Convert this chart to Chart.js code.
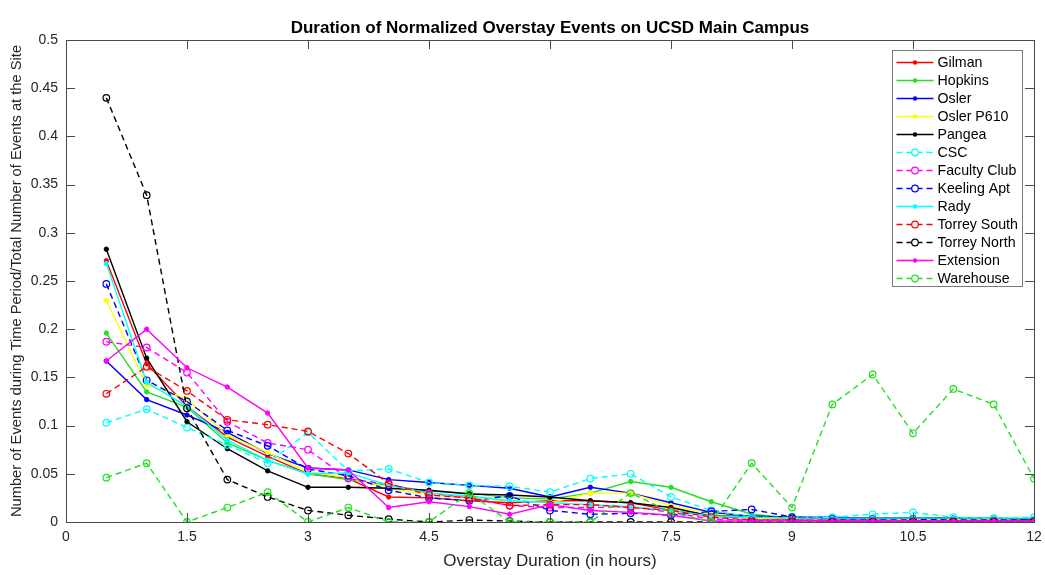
<!DOCTYPE html>
<html>
<head>
<meta charset="utf-8">
<script src="https://cdn.jsdelivr.net/npm/chart.js@4.4.1/dist/chart.umd.min.js"></script>
<style>
  html, body { margin: 0; padding: 0; background: #ffffff; }
  #wrap { width: 1045px; height: 575px; }
</style>
</head>
<body>
<div id="wrap"><canvas id="c" width="1045" height="575"></canvas></div>
<script>
// Overstay duration bins (hours)
const durations = [0.5, 1, 1.5, 2, 2.5, 3, 3.5, 4, 4.5, 5, 5.5, 6, 6.5, 7, 7.5, 8, 8.5, 9, 9.5, 10, 10.5, 11, 11.5, 12];

// Normalized share of overstay events per site
const gilman      = [0.271, 0.164, 0.120, 0.088, 0.068, 0.050, 0.045, 0.026, 0.025, 0.022, 0.020, 0.022, 0.022, 0.020, 0.012, 0.006, 0.004, 0.003, 0.002, 0.002, 0.002, 0.002, 0.002, 0.002];
const hopkins     = [0.196, 0.135, 0.119, 0.082, 0.064, 0.050, 0.044, 0.038, 0.032, 0.030, 0.025, 0.024, 0.030, 0.042, 0.036, 0.021, 0.008, 0.004, 0.003, 0.003, 0.002, 0.002, 0.002, 0.002];
const osler       = [0.167, 0.127, 0.111, 0.093, 0.071, 0.056, 0.054, 0.044, 0.041, 0.038, 0.035, 0.026, 0.036, 0.030, 0.020, 0.010, 0.006, 0.005, 0.005, 0.004, 0.004, 0.004, 0.003, 0.003];
const oslerP610   = [0.230, 0.142, 0.128, 0.090, 0.072, 0.052, 0.046, 0.035, 0.028, 0.025, 0.022, 0.020, 0.030, 0.030, 0.017, 0.008, 0.004, 0.003, 0.003, 0.002, 0.002, 0.002, 0.002, 0.002];
const pangea      = [0.283, 0.170, 0.104, 0.076, 0.053, 0.036, 0.036, 0.035, 0.033, 0.029, 0.028, 0.026, 0.022, 0.020, 0.015, 0.006, 0.006, 0.005, 0.004, 0.004, 0.004, 0.004, 0.004, 0.003];
const csc         = [0.103, 0.117, 0.098, 0.080, 0.061, 0.093, 0.053, 0.055, 0.041, 0.038, 0.037, 0.031, 0.045, 0.050, 0.026, 0.012, 0.005, 0.005, 0.005, 0.008, 0.010, 0.005, 0.004, 0.005];
const facultyClub = [0.187, 0.181, 0.155, 0.104, 0.082, 0.075, 0.045, 0.039, 0.030, 0.025, 0.017, 0.015, 0.015, 0.016, 0.010, 0.003, 0.002, 0.002, 0.002, 0.002, 0.001, 0.001, 0.001, 0.001];
const keelingApt  = [0.247, 0.147, 0.125, 0.095, 0.079, 0.055, 0.048, 0.033, 0.025, 0.022, 0.027, 0.012, 0.008, 0.009, 0.007, 0.011, 0.013, 0.005, 0.003, 0.003, 0.003, 0.002, 0.002, 0.002];
const rady        = [0.268, 0.145, 0.120, 0.085, 0.064, 0.050, 0.051, 0.038, 0.030, 0.027, 0.022, 0.020, 0.018, 0.016, 0.012, 0.006, 0.005, 0.004, 0.004, 0.004, 0.004, 0.004, 0.004, 0.004];
const torreySouth = [0.133, 0.161, 0.136, 0.106, 0.101, 0.094, 0.071, 0.040, 0.028, 0.025, 0.017, 0.018, 0.018, 0.015, 0.012, 0.005, 0.002, 0.002, 0.001, 0.001, 0.001, 0.001, 0.001, 0.001];
const torreyNorth = [0.440, 0.339, 0.118, 0.044, 0.026, 0.012, 0.007, 0.003, 0.000, 0.002, 0.001, 0.000, 0.000, 0.000, 0.000, 0.000, 0.000, 0.000, 0.000, 0.000, 0.000, 0.000, 0.000, 0.000];
const extension   = [0.167, 0.200, 0.160, 0.140, 0.113, 0.056, 0.054, 0.015, 0.021, 0.016, 0.008, 0.018, 0.012, 0.010, 0.007, 0.001, 0.001, 0.001, 0.001, 0.001, 0.001, 0.001, 0.001, 0.001];
const warehouse   = [0.046, 0.061, 0.000, 0.015, 0.031, 0.000, 0.015, 0.000, 0.000, 0.030, 0.000, 0.000, 0.000, 0.030, 0.010, 0.000, 0.061, 0.015, 0.122, 0.153, 0.092, 0.138, 0.122, 0.045];

// Axis tick values
const xTicks = [0, 1.5, 3, 4.5, 6, 7.5, 9, 10.5, 12];
const yTicks = [0, 0.05, 0.1, 0.15, 0.2, 0.25, 0.3, 0.35, 0.4, 0.45, 0.5];

const TITLE = 'Duration of Normalized Overstay Events on UCSD Main Campus';
const FONT = "'Liberation Sans', Arial, Helvetica, sans-serif";
const TEXT = '#262626';
const AXIS = '#4a4a4a';

// name, values, colour, dashed (open circle markers) or solid (dot markers)
const series = [
  ['Gilman',       gilman,      '#ff0000', false],
  ['Hopkins',      hopkins,     '#22e022', false],
  ['Osler',        osler,       '#0000ff', false],
  ['Osler P610',   oslerP610,   '#ffff00', false],
  ['Pangea',       pangea,      '#000000', false],
  ['CSC',          csc,         '#00ffff', true],
  ['Faculty Club', facultyClub, '#ff00ff', true],
  ['Keeling Apt',  keelingApt,  '#0000ff', true],
  ['Rady',         rady,        '#00ffff', false],
  ['Torrey South', torreySouth, '#ff0000', true],
  ['Torrey North', torreyNorth, '#000000', true],
  ['Extension',    extension,   '#ff00ff', false],
  ['Warehouse',    warehouse,   '#22e022', true]
];

const DASH = [6, 4];

const datasets = series.map(([name, vals, color, dashed], i) => ({
  label: name,
  data: durations.map((d, k) => ({ x: d, y: vals[k] })),
  borderColor: color,
  backgroundColor: dashed ? 'rgba(0,0,0,0)' : color,
  borderWidth: 1.4,
  borderDash: dashed ? DASH : [],
  pointRadius: dashed ? 3.3 : 2.2,
  pointBorderWidth: dashed ? 1.2 : 1,
  pointBorderColor: color,
  pointBackgroundColor: dashed ? 'rgba(0,0,0,0)' : color,
  pointStyle: 'circle',
  tension: 0,
  fill: false,
  order: series.length - i,
  _dashed: dashed
}));

// Axes box with inward tick marks on all four sides, plus the title centred over the plot
const boxPlugin = {
  id: 'boxTicks',
  afterDatasetsDraw(chart) {
    const { ctx, chartArea: a, scales: { x, y } } = chart;
    const len = 9;
    ctx.save();
    ctx.strokeStyle = AXIS;
    ctx.lineWidth = 1;
    ctx.beginPath();
    x.ticks.forEach(t => {
      const px = Math.round(x.getPixelForValue(t.value)) + 0.5;
      ctx.moveTo(px, a.bottom); ctx.lineTo(px, a.bottom - len);
      ctx.moveTo(px, a.top); ctx.lineTo(px, a.top + len);
    });
    y.ticks.forEach(t => {
      const py = Math.round(y.getPixelForValue(t.value)) + 0.5;
      ctx.moveTo(a.left, py); ctx.lineTo(a.left + len, py);
      ctx.moveTo(a.right, py); ctx.lineTo(a.right - len, py);
    });
    ctx.stroke();
    ctx.strokeRect(Math.round(a.left) + 0.5, Math.round(a.top) + 0.5,
                   Math.round(a.right - a.left), Math.round(a.bottom - a.top));

    ctx.fillStyle = '#000000';
    ctx.font = 'bold 17px ' + FONT;
    ctx.textAlign = 'center';
    ctx.textBaseline = 'middle';
    ctx.fillText(TITLE, (a.left + a.right) / 2, a.top - 12);
    ctx.restore();
  }
};

// Legend drawn inside the plot, upper right
const legendPlugin = {
  id: 'innerLegend',
  afterDatasetsDraw(chart) {
    const { ctx } = chart;
    const left = 892.5, top = 50.5, w = 130, rowH = 18;
    const h = rowH * chart.data.datasets.length + 2;
    ctx.save();
    ctx.fillStyle = '#ffffff';
    ctx.fillRect(left, top, w, h);
    ctx.strokeStyle = '#7a7a7a';
    ctx.lineWidth = 1;
    ctx.strokeRect(left, top, w, h);
    ctx.font = '14.2px ' + FONT;
    ctx.textBaseline = 'middle';
    ctx.textAlign = 'left';
    chart.data.datasets.forEach((ds, i) => {
      const cy = top + 12 + i * rowH;
      const x0 = left + 4, x1 = left + 41, mx = (x0 + x1) / 2;
      ctx.strokeStyle = ds.borderColor;
      ctx.lineWidth = 1.4;
      ctx.setLineDash(ds._dashed ? DASH : []);
      ctx.beginPath();
      ctx.moveTo(x0, cy); ctx.lineTo(x1, cy);
      ctx.stroke();
      ctx.setLineDash([]);
      ctx.beginPath();
      ctx.arc(mx, cy, ds.pointRadius, 0, Math.PI * 2);
      if (ds._dashed) {
        ctx.fillStyle = '#ffffff';
        ctx.fill();
        ctx.lineWidth = 1.2;
        ctx.stroke();
      } else {
        ctx.fillStyle = ds.borderColor;
        ctx.fill();
      }
      ctx.fillStyle = '#000000';
      ctx.fillText(ds.label, left + 45, cy + 1);
    });
    ctx.restore();
  }
};

new Chart(document.getElementById('c'), {
  type: 'line',
  data: { datasets },
  options: {
    responsive: false,
    animation: false,
    devicePixelRatio: 1,
    layout: { padding: { top: 40, right: 11, bottom: 0, left: 0 } },
    plugins: {
      legend: { display: false },
      tooltip: { enabled: false },
      title: { display: false }
    },
    scales: {
      x: {
        type: 'linear',
        min: 0, max: 12,
        afterBuildTicks: s => { s.ticks = xTicks.map(v => ({ value: v })); },
        afterFit: s => { s.height = 53; s.paddingLeft = 0; s.paddingRight = 0; },
        ticks: {
          color: TEXT, padding: 7, maxRotation: 0, autoSkip: false,
          font: { family: FONT, size: 14 },
          callback: v => String(v)
        },
        grid: { display: false, drawTicks: false },
        border: { display: false },
        title: {
          display: true, text: 'Overstay Duration (in hours)', color: TEXT,
          font: { family: FONT, size: 17 }, padding: { top: 0, bottom: 3 }
        }
      },
      y: {
        type: 'linear',
        min: 0, max: 0.5,
        afterBuildTicks: s => { s.ticks = yTicks.map(v => ({ value: v })); },
        afterFit: s => { s.width = 66; s.paddingTop = 0; s.paddingBottom = 0; },
        ticks: {
          color: TEXT, padding: 8, autoSkip: false,
          font: { family: FONT, size: 14 },
          callback: v => String(Number(v.toFixed(2)))
        },
        grid: { display: false, drawTicks: false },
        border: { display: false },
        title: {
          display: true,
          text: 'Number of Events during Time Period/Total Number of Events at the Site',
          color: TEXT,
          font: { family: FONT, size: 14.7 }, padding: { top: 8, bottom: 0 }
        }
      }
    }
  },
  plugins: [boxPlugin, legendPlugin]
});
</script>
</body>
</html>
